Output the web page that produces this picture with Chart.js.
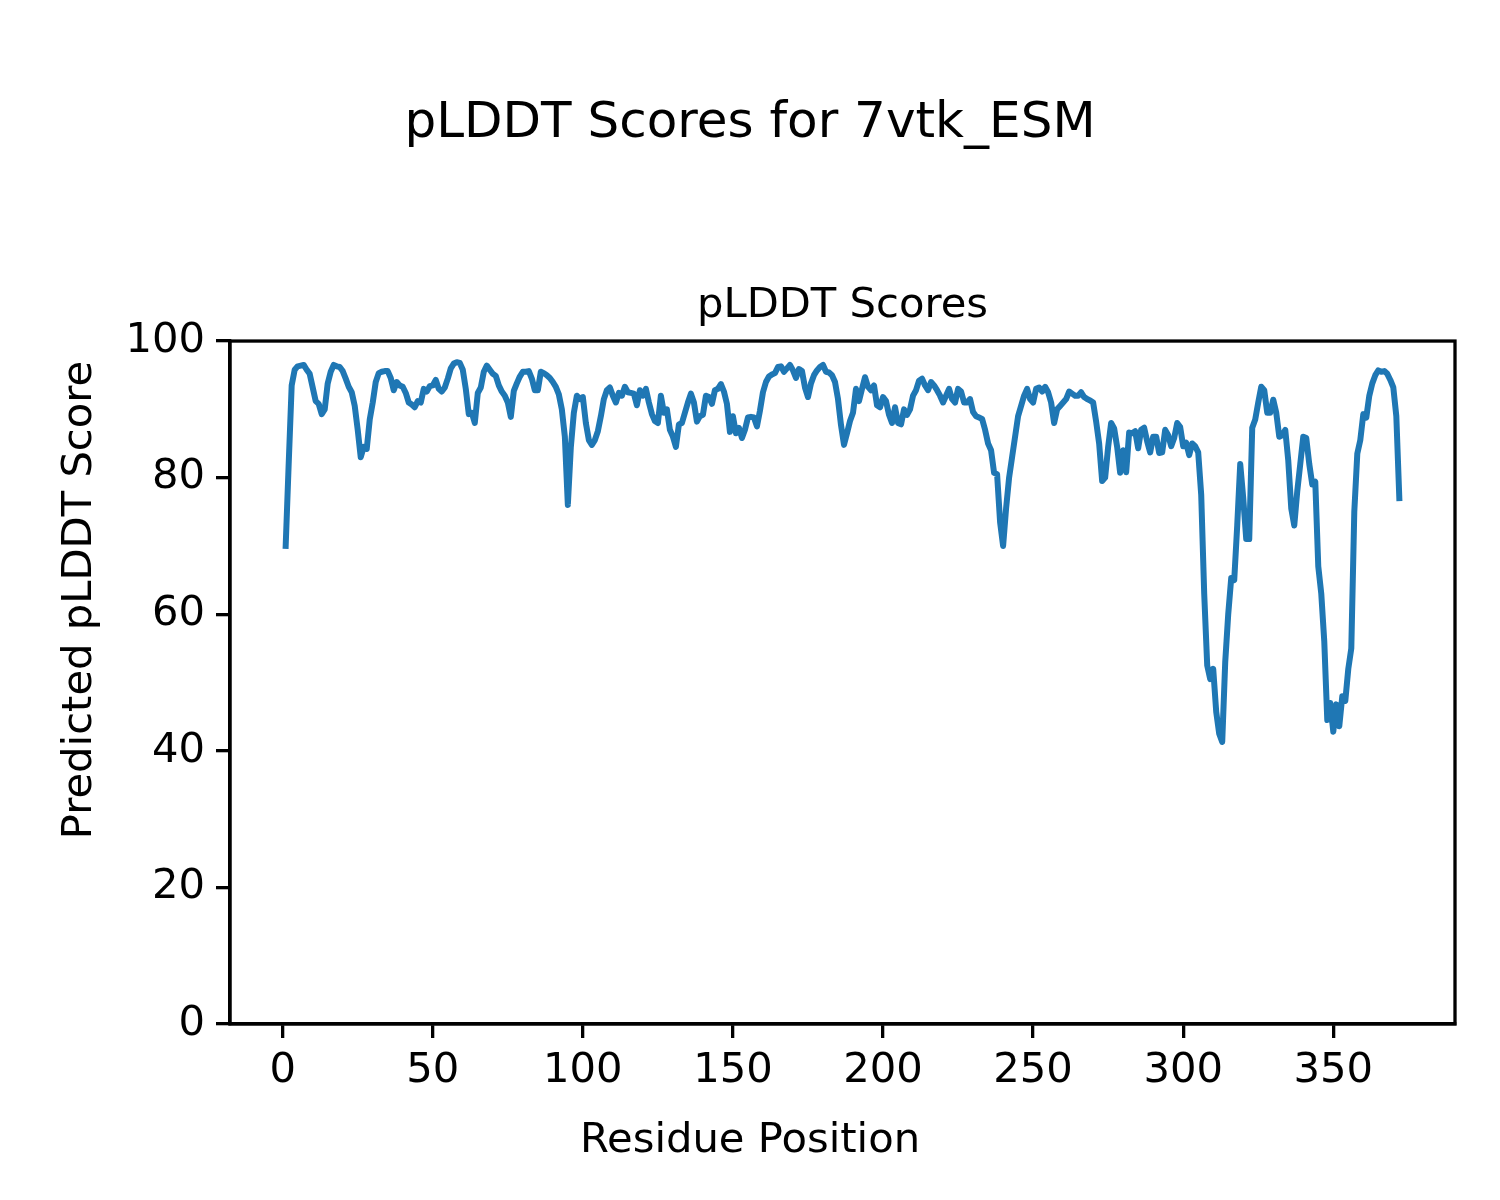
<!DOCTYPE html>
<html>
<head>
<meta charset="utf-8">
<script src="https://cdn.jsdelivr.net/npm/chart.js@4"></script>
<style>
  body { margin: 0; background: #fff; }
  #wrap { width: 1500px; height: 1200px; }
</style>
</head>
<body>
<div id="wrap"><canvas id="plddtChart" width="1500" height="1200"></canvas></div>
<script>
// pLDDT per residue (residues 1..372)
const scores = [
    70, 82, 93.5, 95.8, 96.3, 96.4, 96.5, 95.8, 95.2, 93.2,
    91.2, 90.8, 89.3, 90, 93.8, 95.5, 96.5, 96.3, 96.2, 95.6,
    94.5, 93.3, 92.5, 90.5, 87, 83, 84.5, 84.2, 88.5, 91,
    94, 95.3, 95.5, 95.6, 95.6, 94.6, 92.8, 94, 93.5, 93.3,
    92.4, 91, 90.7, 90.3, 91.2, 91, 93, 92.6, 93.4, 93.5,
    94.3, 93, 92.6, 93.2, 94.5, 96, 96.7, 96.9, 96.8, 95.8,
    93, 89.3, 89.5, 88, 92.4, 93.2, 95.5, 96.4, 95.8, 95.2,
    94.9, 93.5, 92.6, 92, 91, 88.9, 92.7, 93.8, 94.8, 95.5,
    95.5, 95.6, 94.5, 92.8, 92.8, 95.5, 95.3, 95, 94.6, 94,
    93.3, 92.2, 90, 86, 76, 84.5, 89.5, 92, 91.5, 91.8,
    88, 85.5, 84.8, 85.5, 86.8, 89, 91.5, 92.8, 93.2, 92,
    91, 92.4, 92, 93.3, 92.5, 92.4, 92.3, 90.6, 92.8, 92,
    93, 91, 89.3, 88.3, 88, 92, 89.5, 90, 87, 86,
    84.5, 87.8, 88, 89.5, 91, 92.3, 91, 88.2, 89, 89.2,
    92, 91.8, 90.8, 92.8, 93, 93.7, 92.6, 90.8, 86.7, 89,
    86.5, 87.3, 85.8, 87, 88.8, 88.9, 88.8, 87.5, 89.8, 92.5,
    94, 94.8, 95.1, 95.3, 96.2, 96.3, 95.5, 96, 96.5, 95.7,
    94.6, 95.9, 95.6, 93.2, 91.8, 93.8, 95, 95.7, 96.2, 96.5,
    95.5, 95.4, 95, 94, 91.5, 87.7, 84.8, 86.5, 88.3, 89.5,
    93, 91.2, 93, 94.7, 93.3, 92.8, 93.5, 90.6, 90.3, 91.8,
    91.2, 89.2, 88, 90.3, 88, 87.8, 90, 89.2, 90, 92,
    92.8, 94.2, 94.5, 93.5, 92.8, 94, 93.5, 92.8, 92, 91,
    92, 93, 91.5, 91, 93, 92.6, 91, 91, 91.5, 89.6,
    89, 88.8, 88.6, 87, 85, 84, 80.7, 80.5, 73.5, 70,
    75.5, 80, 83, 86, 89, 90.5, 92, 93, 91.5, 91,
    93, 93.2, 92.6, 93.3, 92.5, 91, 88, 90, 90.5, 91,
    91.5, 92.6, 92.3, 92, 92, 92.5, 91.8, 91.5, 91.3, 91,
    88.2, 85, 79.5, 80, 84.5, 88, 87.2, 84.5, 80.7, 84,
    80.8, 86.6, 86.5, 86.8, 84.3, 87, 87.3, 85.3, 83.7, 86,
    86, 83.6, 83.7, 87, 86.2, 84.6, 85.8, 88, 87.4, 84.6,
    85.1, 83.3, 85, 84.6, 83.7, 77.5, 63, 52.5, 50.5, 52,
    45.7, 42.5, 41.3, 53, 60, 65.3, 65, 73, 82, 77,
    71, 71, 87.3, 88.5, 91, 93.3, 92.8, 89.5, 89.5, 91.4,
    89.5, 86, 86.2, 87, 82.5, 75.5, 73, 78, 82, 86,
    85.8, 82, 79, 79.4, 67, 63, 56, 44.5, 47, 42.8,
    46.8, 43.6, 48, 47.3, 52, 55, 75, 83.5, 85.5, 89.3,
    88.8, 92, 93.8, 95, 95.7, 95.5, 95.6, 95.2, 94.3, 93.2,
    89, 77
];
// residue numbering starts at 1
const residues = scores.map((_, i) => i + 1);

const xTicks = [0, 50, 100, 150, 200, 250, 300, 350];
const yTicks = [0, 20, 40, 60, 80, 100];

const figTitle = 'pLDDT Scores for 7vtk_ESM';
const axTitle = 'pLDDT Scores';
const xLabel = 'Residue Position';
const yLabel = 'Predicted pLDDT Score';

const FONT = "'DejaVu Sans', sans-serif";
const ink = '#000000';

// matplotlib style 5% margin on x
const span = residues[residues.length - 1] - residues[0];
const xMin = residues[0] - span * 0.05;
const xMax = residues[residues.length - 1] + span * 0.05;

// top/right spines plus the figure-level axis labels
const frame = {
    id: 'frame',
    afterDraw(chart) {
        const a = chart.chartArea;
        const c = chart.ctx;
        c.save();
        c.strokeStyle = ink;
        c.lineWidth = 3.3;
        c.strokeRect(a.left, a.top, a.right - a.left, a.bottom - a.top);

        c.fillStyle = ink;
        c.font = "41.7px 'DejaVu Sans', sans-serif";
        c.textAlign = 'center';
        c.textBaseline = 'middle';
        c.fillText(xLabel, 750, 1141);

        c.translate(80, 600);
        c.rotate(-Math.PI / 2);
        c.fillText(yLabel, 0, 0);
        c.restore();
    }
};

const ctx = document.getElementById('plddtChart').getContext('2d');
new Chart(ctx, {
    type: 'line',
    data: {
        datasets: [{
            data: residues.map((r, i) => ({ x: r, y: scores[i] })),
            borderColor: '#1f77b4',
            borderWidth: 6,
            borderJoinStyle: 'round',
            borderCapStyle: 'square',
            pointRadius: 0,
            tension: 0,
            fill: false
        }]
    },
    options: {
        responsive: false,
        animation: false,
        devicePixelRatio: 1,
        layout: { padding: { left: 45, right: 45, top: 0, bottom: 0 } },
        plugins: {
            legend: { display: false },
            tooltip: { enabled: false },
            title: {
                display: true,
                text: figTitle,
                color: ink,
                font: { family: FONT, size: 50, weight: 'normal' },
                padding: { top: 94, bottom: 60 }
            },
            subtitle: {
                display: true,
                fullSize: false,
                text: axTitle,
                color: ink,
                font: { family: FONT, size: 41.7, weight: 'normal' },
                padding: { top: 67, bottom: 10 }
            }
        },
        scales: {
            x: {
                type: 'linear',
                min: xMin,
                max: xMax,
                afterBuildTicks: s => { s.ticks = xTicks.map(v => ({ value: v })); },
                afterFit: s => { s.height = 176; },
                ticks: {
                    color: ink,
                    font: { family: FONT, size: 41.7 },
                    padding: 8,
                    maxRotation: 0
                },
                grid: {
                    drawOnChartArea: false,
                    drawTicks: true,
                    tickLength: 14,
                    color: ink,
                    lineWidth: 3.3
                },
                border: { display: true, color: ink, width: 3.3 }
            },
            y: {
                min: 0,
                max: 100,
                afterBuildTicks: s => { s.ticks = yTicks.map(v => ({ value: v })); },
                afterFit: s => { s.width = 185; },
                ticks: {
                    color: ink,
                    font: { family: FONT, size: 41.7 },
                    padding: 11
                },
                grid: {
                    drawOnChartArea: false,
                    drawTicks: true,
                    tickLength: 14,
                    color: ink,
                    lineWidth: 3.3
                },
                border: { display: true, color: ink, width: 3.3 }
            }
        }
    },
    plugins: [frame]
});
</script>
</body>
</html>
